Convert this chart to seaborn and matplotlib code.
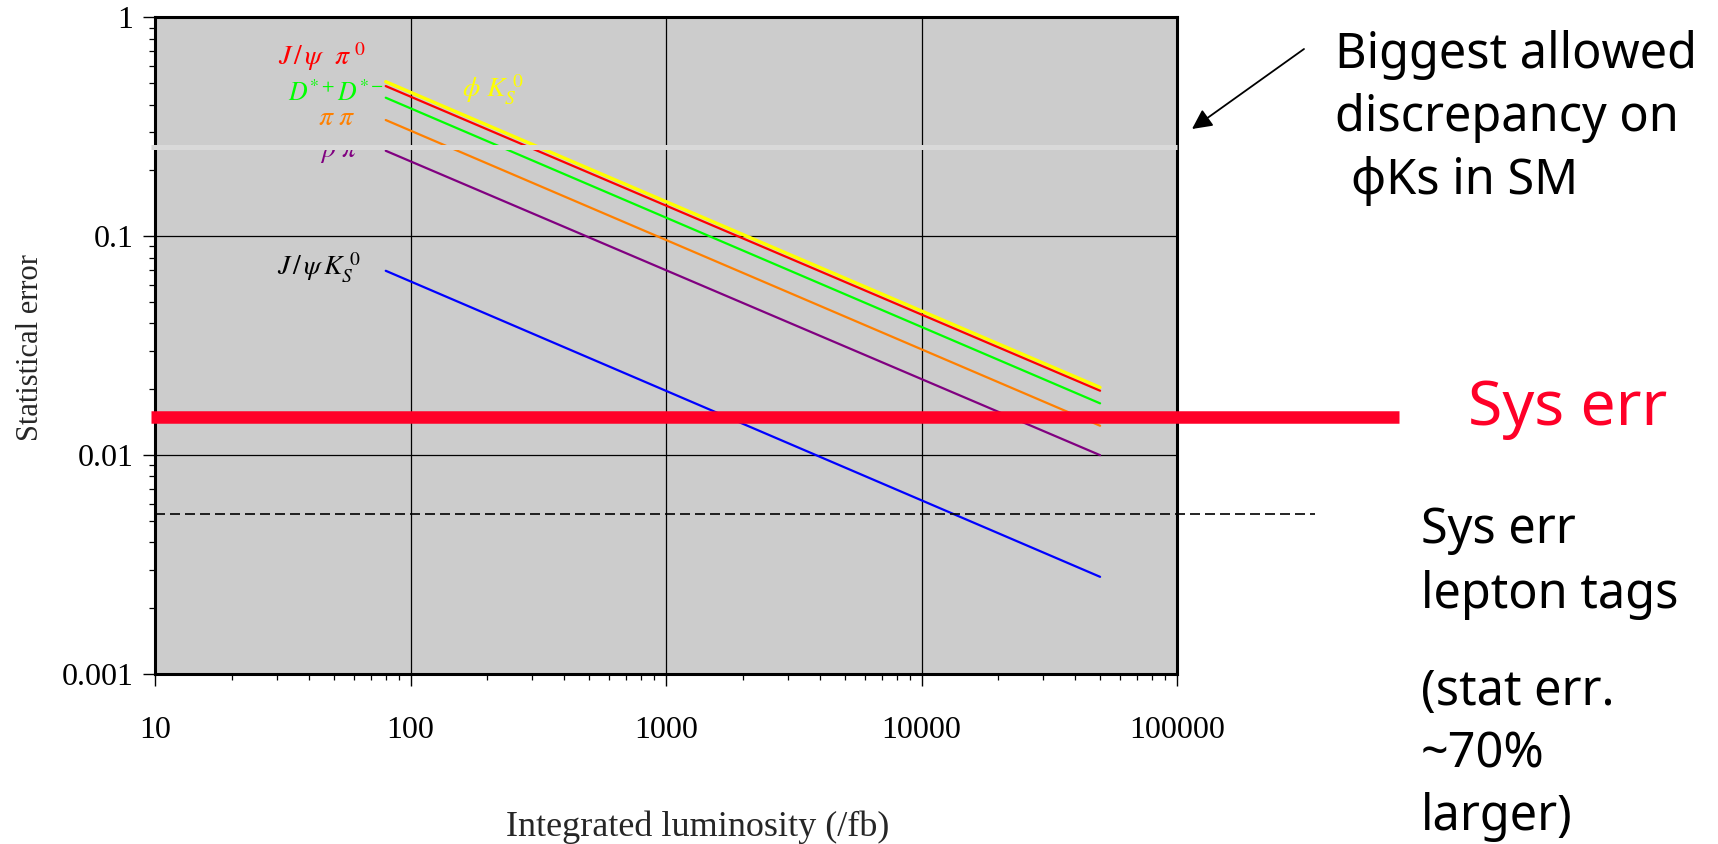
import numpy as np
import pandas as pd
import matplotlib
matplotlib.use("Agg")
import matplotlib.pyplot as plt
import matplotlib.transforms as mtransforms
from matplotlib.ticker import LogLocator, NullFormatter
import seaborn as sns

# ---- data -------------------------------------------------------------
# integrated luminosity (/fb) at which each projection starts and ends
lumi_start = 80
lumi_end = 50000

channels = ["phi_KS", "Jpsi_pi0", "DstarDstar", "pipi", "rhopi", "Jpsi_KS"]
err_at_start = [0.509, 0.486, 0.430, 0.340, 0.246, 0.0696]
err_at_end = [0.0204, 0.0197, 0.01725, 0.01363, 0.0100, 0.00278]
channel_colors = ["#ffff00", "#ff0000", "#00ff00", "#ff8000", "#800080", "#0000ff"]
channel_labels = [
    r"$\phi\ K_S^{\ 0}$",
    r"$J\,/\,\psi\ \ \pi^{\ 0}$",
    r"$D^{*+}D^{*-}$",
    r"$\pi\ \pi$",
    r"$\rho\ \pi$",
    r"$J\,/\,\psi\,K_S^{\ 0}$",
]

sys_err = 0.015            # systematic error level
sys_err_lepton = 0.0054    # systematic error, lepton tags
max_discrepancy = 0.257    # biggest allowed discrepancy on phi Ks in SM

x_ticks = [10, 100, 1000, 10000, 100000]
x_tick_labels = ["10", "100", "1000", "10000", "100000"]
y_ticks = [0.001, 0.01, 0.1, 1]
y_tick_labels = ["0.001", "0.01", "0.1", "1"]

# ---- style ------------------------------------------------------------
sns.set_style("ticks")
plt.rcParams["font.family"] = ["Liberation Serif", "DejaVu Serif"]
plt.rcParams["mathtext.fontset"] = "stix"

W, H = 1718, 844
fig = plt.figure(figsize=(W / 100, H / 100), dpi=100)
fig.patch.set_facecolor("white")
ax = fig.add_axes([155 / W, 1 - 674 / H, (1177 - 155) / W, (674 - 17.5) / H])
ax.set_facecolor("#cccccc")

# ---- projection lines -------------------------------------------------
rows = []
for ch, e0, e1 in zip(channels, err_at_start, err_at_end):
    rows.append({"lumi": lumi_start, "err": e0, "channel": ch})
    rows.append({"lumi": lumi_end, "err": e1, "channel": ch})
df = pd.DataFrame(rows)

sns.lineplot(
    data=df, x="lumi", y="err", hue="channel", hue_order=channels,
    palette=dict(zip(channels, channel_colors)), estimator=None, sort=False,
    legend=False, linewidth=1.6, ax=ax, zorder=3,
)
ax.lines[0].set_linewidth(2.4)   # phi Ks drawn a bit heavier

ax.set_xscale("log")
ax.set_yscale("log")
ax.set_xlim(10, 100000)
ax.set_ylim(0.001, 1)

# channel labels
label_xy = [(0.3004, 0.8896), (0.1204, 0.9398), (0.1301, 0.8850),
            (0.1595, 0.8454), (0.1614, 0.7951), (0.1194, 0.6184)]
label_sizes = [20, 20, 18.5, 20, 20, 20]
label_colors = ["#ffff00", "#ff0000", "#00ff00", "#ff8000", "#800080", "black"]
for txt, (lx, ly), fs, c in zip(channel_labels, label_xy, label_sizes, label_colors):
    ax.text(lx, ly, txt, transform=ax.transAxes, color=c, fontsize=fs,
            ha="left", va="center", zorder=4)

# ---- reference levels -------------------------------------------------
blend = mtransforms.blended_transform_factory(ax.transAxes, ax.transData)
ax.plot([-0.004, 1.0], [max_discrepancy] * 2, transform=blend, color="#d9d9d9",
        lw=3.6, clip_on=False, zorder=10, solid_capstyle="butt")
ax.plot([-0.004, 1.217], [sys_err] * 2, transform=blend, color="#ff0028",
        lw=9.0, clip_on=False, zorder=9, solid_capstyle="butt")
ax.plot([0.0, 1.135], [sys_err_lepton] * 2, transform=blend, color="black",
        lw=1.2, ls=(0, (6, 3)), clip_on=False, zorder=8)

# ---- axes decoration --------------------------------------------------
ax.set_xticks(x_ticks, x_tick_labels)
ax.set_yticks(y_ticks, y_tick_labels)
ax.xaxis.set_minor_locator(LogLocator(base=10, subs=np.arange(2, 10)))
ax.yaxis.set_minor_locator(LogLocator(base=10, subs=np.arange(2, 10)))
ax.xaxis.set_minor_formatter(NullFormatter())
ax.yaxis.set_minor_formatter(NullFormatter())
ax.tick_params(which="major", direction="out", length=8.6, width=1.0,
               color="black", labelsize=23, labelcolor="black")
ax.tick_params(which="minor", direction="out", length=4.0, width=0.9, color="black")
ax.tick_params(axis="x", which="major", pad=22)
ax.tick_params(axis="y", which="major", pad=7)

ax.set_axisbelow(True)
ax.grid(which="major", color="black", lw=0.9)
ax.grid(which="minor", visible=False)
for s in ax.spines.values():
    s.set_linewidth(2.2)
    s.set_color("black")
    s.set_visible(True)

ax.set_xlabel("Integrated luminosity (/fb)", fontsize=26)
ax.xaxis.set_label_coords(0.531, -0.233)
ax.xaxis.label.set_va("center")
ax.set_ylabel("Statistical error", fontsize=22)
ax.yaxis.set_label_coords(-0.122, 0.497)
ax.yaxis.label.set_va("center")

# ---- annotations on the right ----------------------------------------
sans = ["Noto Sans", "DejaVu Sans"]


def put(px, py, s, size=35, color="black"):
    fig.text(px / W, 1 - py / H, s, fontsize=size, color=color, family=sans,
             ha="left", va="baseline")


put(1335, 68, "Biggest allowed")
put(1335, 131, "discrepancy on")
put(1351, 194, "\u03d5Ks in SM")
put(1468, 425, "Sys err", size=45, color="#ff0028")
put(1421, 543, "Sys err")
put(1421, 608, "lepton tags")
put(1421, 705, "(stat err.")
put(1421, 768, "~70%")
put(1421, 830, "larger)")

ax.annotate("", xy=(1192, H - 129), xycoords="figure pixels",
            xytext=(1304, H - 49), textcoords="figure pixels",
            arrowprops=dict(arrowstyle="-|>", color="black", lw=1.3,
                            mutation_scale=30, shrinkA=0, shrinkB=0))

fig.savefig("out.png", dpi=100, facecolor="white")
